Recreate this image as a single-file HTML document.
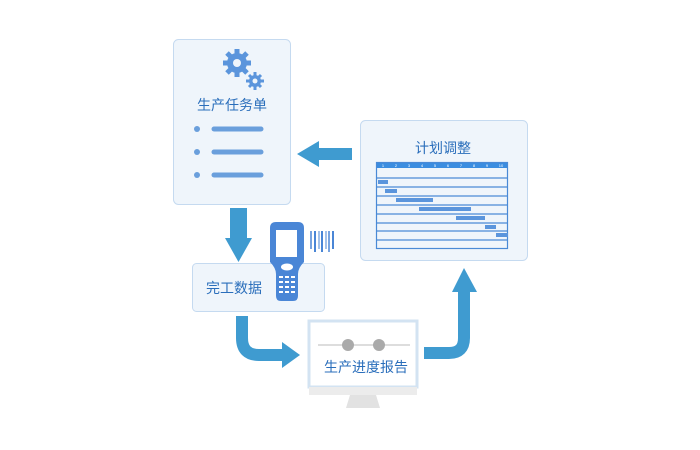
<!DOCTYPE html>
<html><head><meta charset="utf-8"><style>
body{margin:0;background:#fff;}
svg{display:block;font-family:"Liberation Sans","Noto Sans CJK SC",sans-serif;}
</style></head><body>
<svg width="700" height="450" viewBox="0 0 700 450">
<!-- card 1 -->
<rect x="173.5" y="39.5" width="117" height="165" rx="5" fill="#eff5fb" stroke="#c5daf0"/>
<g fill="#5b95dc">
<circle cx="237" cy="63" r="10"/>
<g stroke="#5b95dc" stroke-width="5">
<line x1="237" y1="49" x2="237" y2="77"/><line x1="223" y1="63" x2="251" y2="63"/>
<line x1="227" y1="53" x2="247" y2="73"/><line x1="247" y1="53" x2="227" y2="73"/>
</g>
<circle cx="255" cy="81" r="6"/>
<g stroke="#5b95dc" stroke-width="3">
<line x1="255" y1="72" x2="255" y2="90"/><line x1="246" y1="81" x2="264" y2="81"/>
<line x1="249" y1="75" x2="261" y2="87"/><line x1="261" y1="75" x2="249" y2="87"/>
</g>
</g>
<circle cx="237" cy="63" r="4" fill="#eff5fb"/>
<circle cx="255" cy="81" r="2.5" fill="#eff5fb"/>
<text x="232" y="110" font-size="14" fill="#2a6ebb" text-anchor="middle">生产任务单</text>
<g fill="#6a9fdc"><circle cx="197" cy="129" r="3"/><circle cx="197" cy="152" r="3"/><circle cx="197" cy="175" r="3"/></g>
<g stroke="#6a9fdc" stroke-width="5" stroke-linecap="round"><line x1="214" y1="129" x2="261" y2="129"/><line x1="214" y1="152" x2="261" y2="152"/><line x1="214" y1="175" x2="261" y2="175"/></g>
<!-- left arrow -->
<polygon points="352,148 319,148 319,141 297,154 319,167 319,160 352,160" fill="#3f9bd0"/>
<!-- card 2 -->
<rect x="360.5" y="120.5" width="167" height="140" rx="5" fill="#eff5fb" stroke="#c5daf0"/>
<text x="443" y="153" font-size="14" fill="#2a6ebb" text-anchor="middle">计划调整</text>
<rect x="376" y="162" width="132" height="6" fill="#3b8de0"/>
<g font-size="4" fill="#fff" text-anchor="middle"><text x="383" y="167">1</text><text x="396" y="167">2</text><text x="409" y="167">3</text><text x="422" y="167">4</text><text x="435" y="167">5</text><text x="448" y="167">6</text><text x="461" y="167">7</text><text x="474" y="167">8</text><text x="487" y="167">9</text><text x="501" y="167">10</text></g>
<g stroke="#4a8ad6" stroke-width="1.2" fill="none">
<rect x="376.5" y="162.5" width="131" height="86"/>
<line x1="376" y1="178" x2="508" y2="178"/><line x1="376" y1="187" x2="508" y2="187"/><line x1="376" y1="196" x2="508" y2="196"/><line x1="376" y1="205" x2="508" y2="205"/><line x1="376" y1="214" x2="508" y2="214"/><line x1="376" y1="223" x2="508" y2="223"/><line x1="376" y1="231" x2="508" y2="231"/><line x1="376" y1="240" x2="508" y2="240"/>
</g>
<g fill="#5b95dc">
<rect x="378" y="180" width="10" height="4"/><rect x="385" y="189" width="12" height="4"/><rect x="396" y="198" width="37" height="4"/><rect x="419" y="207" width="52" height="4"/><rect x="456" y="216" width="29" height="4"/><rect x="485" y="225" width="11" height="4"/><rect x="496" y="233" width="12" height="4"/>
</g>
<!-- down arrow -->
<polygon points="230,208 247,208 247,238 252,238 238.5,262 225,238 230,238" fill="#3f9bd0"/>
<!-- card 3 -->
<rect x="192.5" y="263.5" width="132" height="48" rx="4" fill="#eff5fb" stroke="#c5daf0"/>
<text x="206" y="293" font-size="14" fill="#2a6ebb">完工数据</text>
<!-- scanner -->
<path d="M276 222 L298 222 Q304 222 304 228 L304 262 Q298 268 298 274 L298 296 Q298 301 293 301 L281 301 Q276 301 276 296 L276 274 Q276 268 270 262 L270 228 Q270 222 276 222 Z" fill="#4a86d6"/>
<rect x="276" y="230" width="21" height="27" fill="#fff"/>
<ellipse cx="287" cy="267" rx="6" ry="3.5" fill="#fff"/>
<g fill="#fff"><rect x="279" y="276" width="4" height="2"/><rect x="285" y="276" width="4" height="2"/><rect x="291" y="276" width="4" height="2"/><rect x="279" y="281" width="4" height="2"/><rect x="285" y="281" width="4" height="2"/><rect x="291" y="281" width="4" height="2"/><rect x="279" y="286" width="4" height="2"/><rect x="285" y="286" width="4" height="2"/><rect x="291" y="286" width="4" height="2"/><rect x="279" y="291" width="4" height="2"/><rect x="285" y="291" width="4" height="2"/><rect x="291" y="291" width="4" height="2"/></g>
<g stroke="#4a86d6"><line x1="311" y1="231" x2="311" y2="249" stroke-width="1.5"/><line x1="315" y1="231" x2="315" y2="252" stroke-width="2"/><line x1="319" y1="231" x2="319" y2="249" stroke-width="1"/><line x1="322" y1="231" x2="322" y2="252" stroke-width="2"/><line x1="326" y1="231" x2="326" y2="249" stroke-width="1"/><line x1="329" y1="231" x2="329" y2="252" stroke-width="1.5"/><line x1="333" y1="231" x2="333" y2="249" stroke-width="2"/></g>
<!-- curved arrow 1 -->
<path d="M242 316 L242 338 Q242 355 259 355 L283 355" fill="none" stroke="#3f9bd0" stroke-width="12"/>
<polygon points="282,342 300,355 282,368" fill="#3f9bd0"/>
<!-- monitor -->
<rect x="309" y="321" width="108" height="66" fill="#fff" stroke="#d3e3f2" stroke-width="3"/>
<rect x="309" y="387" width="108" height="8" fill="#ececec"/>
<polygon points="350,395 376,395 380,408 346,408" fill="#e2e2e2"/>
<line x1="318" y1="345" x2="410" y2="345" stroke="#bbb"/>
<circle cx="348" cy="345" r="6" fill="#aaa"/><circle cx="379" cy="345" r="6" fill="#aaa"/>
<text x="366" y="372" font-size="14" fill="#2a6ebb" text-anchor="middle">生产进度报告</text>
<!-- curved arrow 2 -->
<path d="M424 353 L449 353 Q464 353 464 338 L464 290" fill="none" stroke="#3f9bd0" stroke-width="12"/>
<polygon points="452,292 464,268 477,292" fill="#3f9bd0"/>
</svg>
</body></html>
